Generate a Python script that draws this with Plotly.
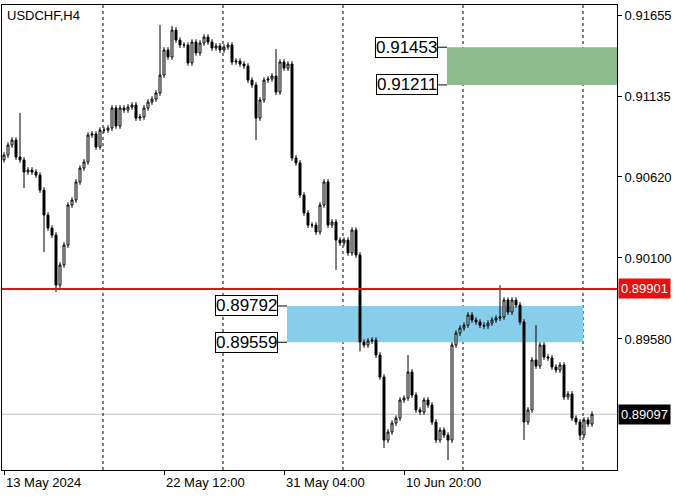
import plotly.graph_objects as go

# USDCHF H4 closes
closes = [0.90761, 0.90825, 0.90857, 0.90748, 0.90729, 0.90652, 0.90665, 0.90652, 0.90632, 0.90536,
          0.90376, 0.90292, 0.90247, 0.89926, 0.90055, 0.90183, 0.90440, 0.90472, 0.90588, 0.90677,
          0.90716, 0.90889, 0.90896, 0.90812, 0.90921, 0.90921, 0.90934, 0.91063, 0.90947, 0.91063,
          0.91050, 0.91069, 0.91082, 0.90998, 0.91005, 0.91063, 0.91101, 0.91120, 0.91159, 0.91274,
          0.91435, 0.91390, 0.91563, 0.91499, 0.91467, 0.91467, 0.91352, 0.91486, 0.91416, 0.91480,
          0.91518, 0.91486, 0.91448, 0.91461, 0.91435, 0.91454, 0.91467, 0.91358, 0.91364, 0.91345,
          0.91332, 0.91242, 0.91210, 0.90998, 0.91114, 0.91242, 0.91249, 0.91268, 0.91165, 0.91358,
          0.91319, 0.91345, 0.90742, 0.90710, 0.90504, 0.90389, 0.90311, 0.90311, 0.90267, 0.90440,
          0.90588, 0.90311, 0.90331, 0.90215, 0.90196, 0.90215, 0.90132, 0.90279, 0.90119, 0.89560,
          0.89541, 0.89567, 0.89573, 0.89477, 0.89336, 0.88931, 0.88983, 0.89040, 0.89072, 0.89188,
          0.89201, 0.89368, 0.89220, 0.89124, 0.89111, 0.89188, 0.89156, 0.89047, 0.88931, 0.88995,
          0.88963, 0.88931, 0.89541, 0.89618, 0.89650, 0.89669, 0.89734, 0.89702, 0.89689, 0.89669,
          0.89663, 0.89682, 0.89702, 0.89714, 0.89721, 0.89830, 0.89753, 0.89830, 0.89798, 0.89689,
          0.89047, 0.89124, 0.89445, 0.89406, 0.89541, 0.89464, 0.89458, 0.89400, 0.89381, 0.89413,
          0.89207, 0.89227, 0.89072, 0.89047, 0.88963, 0.89060, 0.89034, 0.89097]
first_open = 0.90730
wick = 0.00018
# long wicks that stand out: bar index -> price
big_highs = {4: 0.91031, 39: 0.91596, 42: 0.91590, 68: 0.91441, 101: 0.89477, 124: 0.89926, 133: 0.89669}
big_lows = {5: 0.90549, 10: 0.90138, 13: 0.89881, 63: 0.90857, 83: 0.90023, 89: 0.89500,
            95: 0.88880, 111: 0.88803, 130: 0.88931, 144: 0.88930}

tick_vals = [0.91655, 0.91135, 0.90620, 0.90100, 0.89580]
date_labels = ["13 May 2024", "22 May 12:00", "31 May 04:00", "10 Jun 20:00"]
date_bars = [0, 40, 70, 100]
grid_bars = [24.75, 54.75, 84.75, 114.75, 144.75]

support = 0.89901
last_price = 0.89097
blue_zone = (0.89559, 0.89792, 70.75, 144.75)
green_zone = (0.91211, 0.91453, 110.75, 160)

opens = [first_open] + closes[:-1]
highs, lows = [], []
for i, (o, c) in enumerate(zip(opens, closes)):
    highs.append(max(big_highs.get(i, 0), max(o, c) + wick))
    lows.append(min(big_lows.get(i, 1), min(o, c) - wick))
x = list(range(len(closes)))

fig = go.Figure()
for y0, y1, xa, xb, col in [(*blue_zone, "#87ceeb"), (*green_zone, "#8fbc8f")]:
    fig.add_shape(type="rect", x0=xa, x1=xb, y0=y0, y1=y1, fillcolor=col, line_width=0, layer="below")
fig.add_shape(type="line", xref="paper", x0=0, x1=1, y0=last_price, y1=last_price, line=dict(color="#c0c0c0", width=1), layer="below")
for g in grid_bars:
    fig.add_shape(type="line", x0=g, x1=g, yref="paper", y0=0, y1=1, line=dict(color="black", width=1, dash="dot"), layer="below")
fig.add_shape(type="line", xref="paper", x0=0, x1=1, y0=support, y1=support, line=dict(color="#e8100e", width=2))

fig.add_trace(go.Candlestick(
    x=x, open=opens, high=highs, low=lows, close=closes,
    increasing=dict(fillcolor="white", line=dict(color="black", width=1)),
    decreasing=dict(fillcolor="black", line=dict(color="black", width=1)),
    whiskerwidth=0, opacity=1, hoverinfo="skip"))

font = dict(family="Liberation Sans, Arial", size=13, color="black")
# zone price labels
for val, xa in [(blue_zone[0], blue_zone[2]), (blue_zone[1], blue_zone[2]),
                (green_zone[0], green_zone[2]), (green_zone[1], green_zone[2])]:
    fig.add_annotation(x=xa, y=val, text=f"{val:.5f}", showarrow=False, xanchor="right", xshift=-9,
                       font=dict(family="Liberation Sans, Arial", size=17, color="black"),
                       bordercolor="black", borderwidth=1, bgcolor="white", borderpad=0)
    fig.add_shape(type="line", x0=xa - 2.5, x1=xa, y0=val, y1=val, line=dict(color="black", width=1))
fig.add_annotation(xref="paper", x=1.002, y=support, text=f"{support:.5f}", showarrow=False, xanchor="left",
                   font=dict(family="Liberation Sans, Arial", size=13, color="white"), bgcolor="#e8100e", borderpad=2)
fig.add_annotation(xref="paper", x=1.002, y=last_price, text=f"{last_price:.5f}", showarrow=False, xanchor="left",
                   font=dict(family="Liberation Sans, Arial", size=13, color="white"), bgcolor="black", borderpad=2)
for b, lab in zip(date_bars, date_labels):
    fig.add_annotation(x=b, yref="paper", y=0, yshift=-3, text=lab, showarrow=False, xanchor="left", yanchor="top", font=font)
fig.add_annotation(xref="paper", yref="paper", x=0.005, y=0.998, text="USDCHF,H4", showarrow=False,
                   xanchor="left", yanchor="top", font=font)

fig.update_layout(
    width=700, height=500, margin=dict(l=2, r=83, t=5, b=30, autoexpand=False),
    paper_bgcolor="white", plot_bgcolor="white", showlegend=False,
    xaxis=dict(range=[-0.5, 153.25], rangeslider_visible=False, showgrid=False, showticklabels=False,
               showline=True, linecolor="black", mirror=True, zeroline=False, automargin=False,
               tickvals=date_bars, ticks="outside", ticklen=4, tickcolor="black"),
    yaxis=dict(range=[0.88739, 0.91724], side="right", showgrid=False, tickvals=tick_vals,
               tickformat=".5f", ticks="outside", ticklen=4, tickcolor="black", tickfont=font,
               showline=True, linecolor="black", mirror=True, zeroline=False, automargin=False),
)
fig.write_html("out.html", config={"displayModeBar": False}, post_script="document.body.style.margin='0';")
